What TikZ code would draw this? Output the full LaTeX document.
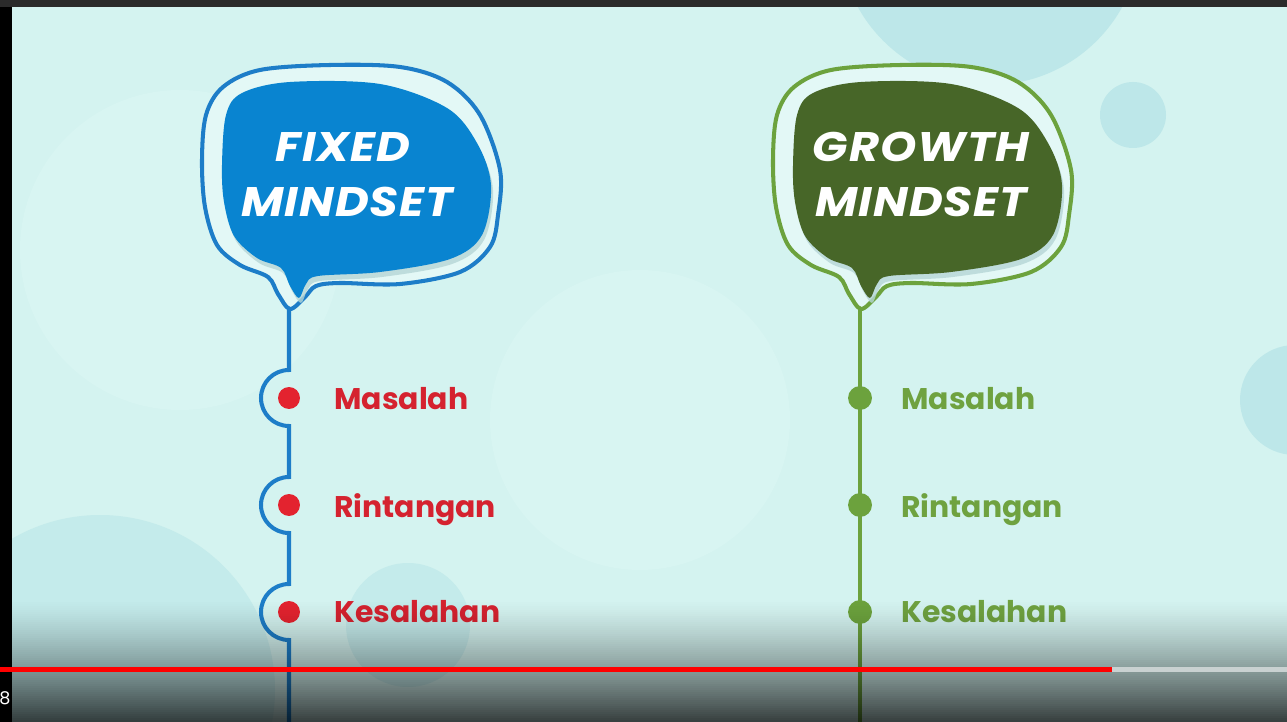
\documentclass[tikz,border=0pt]{standalone}
\usepackage{fontspec}
\setmainfont{Poppins}
\newfontfamily\headfont{Poppins}[LetterSpace=2]
\definecolor{bg}{HTML}{D4F3F0}
\definecolor{bgdark}{HTML}{BDE7E9}
\definecolor{bglight}{HTML}{D8F5F2}
\definecolor{bubblebg}{HTML}{E3F8F6}
\definecolor{blueline}{HTML}{1D7DC8}
\definecolor{bluefill}{HTML}{0984D0}
\definecolor{greenline}{HTML}{6CA23D}
\definecolor{greenfill}{HTML}{476628}
\definecolor{reddot}{HTML}{E3232F}
\definecolor{redtext}{HTML}{D5222F}
\definecolor{greentext}{HTML}{6FA240}
\definecolor{shadowc}{HTML}{B5D6D6}
\definecolor{overlay}{HTML}{1A2626}
\definecolor{topbar}{HTML}{2B2B2B}
\definecolor{progress}{HTML}{FF0000}
\definecolor{rest}{HTML}{C9D1D1}
\newcommand\headwide[1]{\scalebox{1.12}[1]{#1}}
\tikzset{
  headtext/.style={text=white, font=\fontsize{23.5}{28}\selectfont\headfont\bfseries\itshape, anchor=base, inner sep=0pt},
  redlabel/.style={text=redtext, font=\fontsize{17}{20}\selectfont\bfseries, anchor=base west, inner sep=0pt},
  greenlabel/.style={text=greentext, font=\fontsize{17}{20}\selectfont\bfseries, anchor=base west, inner sep=0pt},
  reddotstyle/.style={circle, fill=reddot, minimum size=12.5pt, inner sep=0pt},
  greendotstyle/.style={circle, fill=greenline, minimum size=13.6pt, inner sep=0pt},
  outerbubble/.style={line width=2.3pt, fill=bubblebg},
}
\newcommand\outerpts{(202,160) (206,115) (223,87) (260,70) (330,65) (400,67) (447,82) (480,115) (500,170) (498,215) (490,247) (460,272) (400,284) (340,283) (316,286) (305,297) (290,309) (278,294) (268,277) (240,265) (217,245) (205,207)}
\newcommand\innerpts{(222,165) (226,115) (242,93) (290,82) (380,84) (447,108) (477,143) (491,185) (482,235) (450,259) (380,272) (318,276) (306,284) (299,298) (290,286) (281,268) (257,258) (234,236) (224,202)}
\begin{document}
\begin{tikzpicture}[x=0.02cm,y=-0.02cm]
\useasboundingbox (0,0) rectangle (1287,722);
\fill[bg] (0,0) rectangle (1287,722);
% background circles
\fill[bglight] (180,250) circle[radius=160];
\fill[bglight] (640,420) circle[radius=150];
\fill[bgdark] (990,-66) circle[radius=151];
\fill[bgdark] (1133,115) circle[radius=33];
\fill[bgdark] (1295,400) circle[radius=55];
\fill[bgdark!70!bg] (100,690) circle[radius=175];
\fill[bgdark!70!bg] (408,625) circle[radius=62];

% ---------- left bubble ----------
\filldraw[outerbubble, draw=blueline] plot[smooth cycle, tension=0.55] coordinates {\outerpts};
\fill[shadowc, opacity=0.8, shift={(2,5)}] plot[smooth cycle, tension=0.55] coordinates {\innerpts};
\fill[bluefill] plot[smooth cycle, tension=0.55] coordinates {\innerpts};
\node[headtext] (fixed) at (343,162) {\headwide{FIXED}};
\node[headtext] (lmind) at (347,217) {\headwide{MINDSET}};

% ---------- right bubble ----------
\begin{scope}[shift={(571,0)}]
\filldraw[outerbubble, draw=greenline] plot[smooth cycle, tension=0.55] coordinates {\outerpts};
\fill[shadowc, opacity=0.8, shift={(2,5)}] plot[smooth cycle, tension=0.55] coordinates {\innerpts};
\fill[greenfill] plot[smooth cycle, tension=0.55] coordinates {\innerpts};
\end{scope}
\node[headtext] (growth) at (921,162) {\headwide{GROWTH}};
\node[headtext] (rmind) at (921,217) {\headwide{MINDSET}};

% ---------- left timeline ----------
\coordinate (ltail) at (289,308);
\coordinate (lend) at (289,722);
\draw[blueline, line width=2.3pt]
 (ltail) -- (289,370)
 .. controls (273.5,370) and (261,382.5) .. (261,398)
 .. controls (261,413.5) and (273.5,426) .. (289,426)
 -- (289,477)
 .. controls (273.5,477) and (261,489.5) .. (261,505)
 .. controls (261,520.5) and (273.5,533) .. (289,533)
 -- (289,584)
 .. controls (273.5,584) and (261,596.5) .. (261,612)
 .. controls (261,627.5) and (273.5,640) .. (289,640)
 -- (lend);
\node[reddotstyle] (ld1) at (289,398) {};
\node[reddotstyle] (ld2) at (289,505) {};
\node[reddotstyle] (ld3) at (289,612) {};
\node[redlabel] (lt1) at (334,410) {Masalah};
\node[redlabel] (lt2) at (334,517) {Rintangan};
\node[redlabel] (lt3) at (334,622) {Kesalahan};

% ---------- right timeline ----------
\coordinate (rtail) at (860,308);
\coordinate (rend) at (860,722);
\draw[greenline, line width=2.3pt] (rtail) -- (rend);
\node[greendotstyle] (rd1) at (860,398) {};
\node[greendotstyle] (rd2) at (860,505) {};
\node[greendotstyle] (rd3) at (860,612) {};
\node[greenlabel] (rt1) at (901,410) {Masalah};
\node[greenlabel] (rt2) at (901,517) {Rintangan};
\node[greenlabel] (rt3) at (901,622) {Kesalahan};

% ---------- player overlay ----------
\foreach \yy in {600,602,...,720}{
  \pgfmathsetmacro\op{0.74*(((\yy+1-600)/122)^1.3)}
  \fill[overlay, fill opacity=\op] (0,\yy) rectangle (1287,\yy+2);
}
\fill[topbar] (0,0) rectangle (1287,7);
\fill[black] (0,7) rectangle (12,722);
\fill[progress] (0,667) rectangle (1112,672);
\fill[rest] (1112,667) rectangle (1287,672);
\node[text=white, font=\fontsize{10}{10}\selectfont, inner sep=0pt] (time) at (5,698) {8};
\end{tikzpicture}
\end{document}
